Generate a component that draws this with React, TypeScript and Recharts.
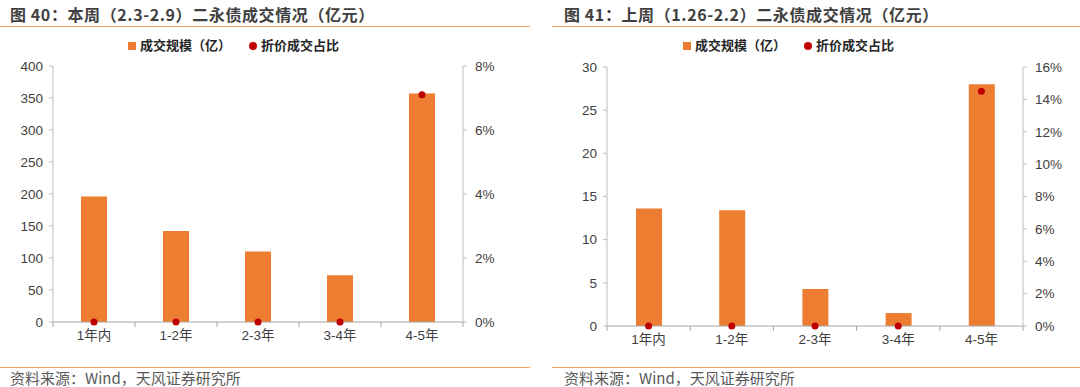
import React from 'react';
import { ComposedChart, Bar, Scatter, XAxis, YAxis, Legend } from 'recharts';

// 期限分类
const categories = ['1年内', '1-2年', '2-3年', '3-4年', '4-5年'];

// 本周（2.3-2.9）
const thisWeekVolume = [196, 142, 110, 73, 357];
const thisWeekDiscount = [0, 0, 0, 0, 0.071];
const thisWeekVolumeTicks = [0, 50, 100, 150, 200, 250, 300, 350, 400];
const thisWeekPctTicks = [0, 0.02, 0.04, 0.06, 0.08];

// 上周（1.26-2.2）
const lastWeekVolume = [13.6, 13.4, 4.3, 1.5, 28.0];
const lastWeekDiscount = [0, 0, 0, 0, 0.145];
const lastWeekVolumeTicks = [0, 5, 10, 15, 20, 25, 30];
const lastWeekPctTicks = [0, 0.02, 0.04, 0.06, 0.08, 0.1, 0.12, 0.14, 0.16];

const W = 540;
const H = 387;
const CJK = "'Noto Sans CJK SC', sans-serif";
const TICK_FONT = "'Liberation Sans', 'Noto Sans CJK SC', sans-serif";
const ORANGE = '#ED7D31';
const RED = '#C00000';
const LINE = '#F4A261';

const pct = (v: number) => `${Math.round(v * 100)}%`;

const XTick = (props: any) => {
  const { x, y, payload, index, bw, count } = props;
  const top = y - 8;
  return (
    <g>
      <line x1={x - bw / 2} x2={x - bw / 2} y1={top} y2={top + 5} stroke="#A6A6A6" />
      {index === count - 1 && (
        <line x1={x + bw / 2} x2={x + bw / 2} y1={top} y2={top + 5} stroke="#A6A6A6" />
      )}
      <text x={x} y={y} dy="0.71em" textAnchor="middle" fill="#404040" fontSize={13.5} fontFamily={TICK_FONT}>
        {payload.value}
      </text>
    </g>
  );
};

interface PanelProps {
  left: number;
  title: string;
  volume: number[];
  discount: number[];
  volTicks: number[];
  pctTicks: number[];
  plot: { left: number; right: number; top: number; bottom: number };
  legendLeft: number;
  textLeft: number;
  lineFrom: number;
  lineTo: number;
}

const Panel = ({ left, title, volume, discount, volTicks, pctTicks, plot, legendLeft, textLeft, lineFrom, lineTo }: PanelProps) => {
  const data = categories.map((c, i) => ({ name: c, volume: volume[i], discount: discount[i] }));
  const bw = (plot.right - plot.left) / categories.length;
  const tickStyle = { fill: '#404040', fontSize: 13.5, fontFamily: TICK_FONT };

  return (
    <div style={{ position: 'absolute', left, top: 0, width: W, height: H }}>
      <ComposedChart
        width={W}
        height={H}
        data={data}
        margin={{ top: plot.top, bottom: H - plot.bottom - 30, left: 0, right: 0 }}
      >
        <XAxis
          dataKey="name"
          height={30}
          axisLine={{ stroke: '#A6A6A6' }}
          tickLine={false}
          tickSize={0}
          tickMargin={8}
          interval={0}
          tick={<XTick bw={bw} count={categories.length} />}
        />
        <YAxis
          yAxisId="vol"
          width={plot.left}
          domain={[volTicks[0], volTicks[volTicks.length - 1]]}
          ticks={volTicks}
          interval={0}
          axisLine={{ stroke: '#BFBFBF' }}
          tickLine={{ stroke: '#BFBFBF' }}
          tickSize={4}
          tickMargin={6}
          tick={tickStyle}
        />
        <YAxis
          yAxisId="pct"
          orientation="right"
          width={W - plot.right}
          domain={[pctTicks[0], pctTicks[pctTicks.length - 1]]}
          ticks={pctTicks}
          interval={0}
          tickFormatter={pct}
          axisLine={{ stroke: '#BFBFBF' }}
          tickLine={{ stroke: '#BFBFBF' }}
          tickSize={4}
          tickMargin={8}
          tick={tickStyle}
        />
        <Legend
          verticalAlign="middle"
          align="center"
          iconSize={8}
          wrapperStyle={{ left: legendLeft, top: 36, width: 'auto', lineHeight: '18px' }}
          formatter={(value: string) => (
            <span style={{ color: '#262626', fontWeight: 'bold', fontSize: 13, fontFamily: CJK, marginRight: 8 }}>{value}</span>
          )}
        />
        <Bar
          yAxisId="vol"
          dataKey="volume"
          name="成交规模（亿）"
          fill={ORANGE}
          barSize={26}
          legendType="square"
          isAnimationActive={false}
        />
        <Scatter
          yAxisId="pct"
          dataKey="discount"
          name="折价成交占比"
          fill={RED}
          legendType="circle"
          isAnimationActive={false}
          shape={(p: any) => <circle cx={p.cx} cy={p.cy} r={3.5} fill={RED} />}
        />
      </ComposedChart>

      <div
        style={{
          position: 'absolute',
          left: textLeft,
          top: 3,
          fontSize: 16,
          fontWeight: 'bold',
          lineHeight: '22px',
          letterSpacing: '0.6px',
          color: '#404040',
          whiteSpace: 'nowrap',
          fontFamily: CJK,
        }}
      >
        {title}
      </div>
      <div style={{ position: 'absolute', left: lineFrom, width: lineTo - lineFrom, top: 26, height: 1, background: LINE }} />

      <div style={{ position: 'absolute', left: lineFrom, width: lineTo - lineFrom, top: 367, height: 1, background: LINE }} />
      <div
        style={{
          position: 'absolute',
          left: textLeft,
          top: 369,
          fontSize: 15,
          lineHeight: '18px',
          color: '#595959',
          whiteSpace: 'nowrap',
          fontFamily: CJK,
        }}
      >
        资料来源：Wind，天风证券研究所
      </div>
    </div>
  );
};

export default function App() {
  return (
    <div style={{ position: 'absolute', left: 0, top: 0, width: 1080, height: 387, background: '#fff', overflow: 'hidden' }}>
      <Panel
        left={0}
        title="图 40：本周（2.3-2.9）二永债成交情况（亿元）"
        volume={thisWeekVolume}
        discount={thisWeekDiscount}
        volTicks={thisWeekVolumeTicks}
        pctTicks={thisWeekPctTicks}
        plot={{ left: 53, right: 463, top: 66, bottom: 322 }}
        legendLeft={128}
        textLeft={10}
        lineFrom={0}
        lineTo={530}
      />
      <Panel
        left={540}
        title="图 41：上周（1.26-2.2）二永债成交情况（亿元）"
        volume={lastWeekVolume}
        discount={lastWeekDiscount}
        volTicks={lastWeekVolumeTicks}
        pctTicks={lastWeekPctTicks}
        plot={{ left: 67, right: 483, top: 67, bottom: 326 }}
        legendLeft={143}
        textLeft={24}
        lineFrom={12}
        lineTo={540}
      />
    </div>
  );
}
